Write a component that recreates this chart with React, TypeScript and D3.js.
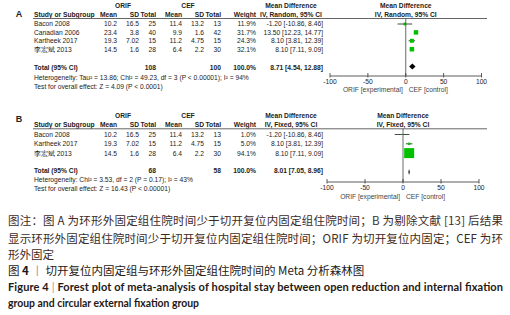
import React from "react";
import * as d3 from "d3";

// ---- Data ----
const studiesA = ["Bacon 2008", "Canadian 2006", "Kartheek 2017", "李宏斌 2013"];
const orifMeanA = [10.2, 23.4, 19.3, 14.5];
const orifSdA = ["16.5", "3.8", "7.02", "1.6"];
const orifNA = [25, 40, 15, 28];
const cefMeanA = [11.4, 9.9, 11.2, 6.4];
const cefSdA = ["13.2", "1.6", "4.75", "2.2"];
const cefNA = [13, 42, 15, 30];
const weightA = [11.9, 31.7, 24.3, 32.1];
const mdA = [-1.2, 13.5, 8.1, 8.1];
const lowA = [-10.86, 12.23, 3.81, 7.11];
const highA = [8.46, 14.77, 12.39, 9.09];
const totalA = [8.71, 4.54, 12.88];
const totalNA = [108, 100];

const studiesB = ["Bacon 2008", "Kartheek 2017", "李宏斌 2013"];
const orifMeanB = [10.2, 19.3, 14.5];
const orifSdB = ["16.5", "7.02", "1.6"];
const orifNB = [25, 15, 28];
const cefMeanB = [11.4, 11.2, 6.4];
const cefSdB = ["13.2", "4.75", "2.2"];
const cefNB = [13, 15, 30];
const weightB = [1.0, 5.0, 94.1];
const mdB = [-1.2, 8.1, 8.1];
const lowB = [-10.86, 3.81, 7.11];
const highB = [8.46, 12.39, 9.09];
const totalB = [8.01, 7.05, 8.96];
const totalNB = [68, 58];

const ticks = [-100, -50, 0, 50, 100];

const FONT = "'Liberation Sans', Arial, sans-serif";
const TXT = "#222";

type PanelProps = {
  label: string;
  method: string;
  studies: string[];
  om: number[]; os: string[]; on: number[];
  cm: number[]; cs: string[]; cn: number[];
  w: number[]; md: number[]; lo: number[]; hi: number[];
  total: number[]; totalN: number[];
  het: string; test: string;
  y: any;
  xRange: [number, number];
  sqMax: number;
};

function Panel(p: PanelProps) {
  const x = d3.scaleLinear().domain([-100, 100]).range(p.xRange);
  const sq = d3.scaleSqrt().domain([0, 100]).range([0, p.sqMax]);
  const L = p.y;
  const rowY = (i: number) => L.row0 + L.rowStep * i;
  const fs = 6.7;
  const cols = { om: 117, os: 139, on: 156, cm: 182, cs: 204, cn: 221, w: 256, ci: 323 };
  const x0 = x(0);
  const fmtCI = (m: number, a: number, b: number) => `${m.toFixed(2)} [${a.toFixed(2)}, ${b.toFixed(2)}]`;
  return (
    <g fontFamily={FONT} fontSize={fs} fill={TXT}>
      <text x={19} y={L.label} fontSize={9} fontWeight="bold" textAnchor="middle">{p.label}</text>
      <text x={123} y={L.h1} fontWeight="bold" textAnchor="middle">ORIF</text>
      <text x={188} y={L.h1} fontWeight="bold" textAnchor="middle">CEF</text>
      <text x={291} y={L.h1} fontWeight="bold" textAnchor="middle">Mean Difference</text>
      <text x={x0} y={L.h1} fontWeight="bold" textAnchor="middle">Mean Difference</text>
      <g fontWeight="bold">
        <text x={34} y={L.h2}>Study or Subgroup</text>
        <text x={cols.om} y={L.h2} textAnchor="end">Mean</text>
        <text x={cols.os} y={L.h2} textAnchor="end">SD</text>
        <text x={cols.on} y={L.h2} textAnchor="end">Total</text>
        <text x={cols.cm} y={L.h2} textAnchor="end">Mean</text>
        <text x={cols.cs} y={L.h2} textAnchor="end">SD</text>
        <text x={cols.cn} y={L.h2} textAnchor="end">Total</text>
        <text x={cols.w} y={L.h2} textAnchor="end">Weight</text>
        <text x={291} y={L.h2} textAnchor="middle">{`IV, ${p.method}, 95% CI`}</text>
        <text x={x0} y={L.h2} textAnchor="middle">{`IV, ${p.method}, 95% CI`}</text>
      </g>
      <line x1={33} x2={487} y1={L.line} y2={L.line} stroke="#666" strokeWidth={1} />
      {p.studies.map((s, i) => {
        const cy = rowY(i);
        const by = cy + 2.4;
        const size = sq(p.w[i]);
        return (
          <g key={s}>
            <text x={34} y={by}>{s}</text>
            <text x={cols.om} y={by} textAnchor="end">{p.om[i]}</text>
            <text x={cols.os} y={by} textAnchor="end">{p.os[i]}</text>
            <text x={cols.on} y={by} textAnchor="end">{p.on[i]}</text>
            <text x={cols.cm} y={by} textAnchor="end">{p.cm[i]}</text>
            <text x={cols.cs} y={by} textAnchor="end">{p.cs[i]}</text>
            <text x={cols.cn} y={by} textAnchor="end">{p.cn[i]}</text>
            <text x={cols.w} y={by} textAnchor="end">{p.w[i].toFixed(1) + "%"}</text>
            <text x={cols.ci} y={by} textAnchor="end">{fmtCI(p.md[i], p.lo[i], p.hi[i])}</text>
            <line x1={x(p.lo[i])} x2={x(p.hi[i])} y1={cy} y2={cy} stroke="#333" strokeWidth={0.9} />
            <rect x={x(p.md[i]) - size / 2} y={cy - size / 2} width={size} height={size} fill="#00c000" />
          </g>
        );
      })}
      <g fontWeight="bold">
        <text x={34} y={L.total}>Total (95% CI)</text>
        <text x={cols.on} y={L.total} textAnchor="end">{p.totalN[0]}</text>
        <text x={cols.cn} y={L.total} textAnchor="end">{p.totalN[1]}</text>
        <text x={cols.w} y={L.total} textAnchor="end">100.0%</text>
        <text x={cols.ci} y={L.total} textAnchor="end">{fmtCI(p.total[0], p.total[1], p.total[2])}</text>
      </g>
      <text x={34} y={L.het}>{p.het}</text>
      <text x={34} y={L.test}>{p.test}</text>
      <line x1={x0} x2={x0} y1={L.line} y2={L.axis} stroke="#444" strokeWidth={0.8} />
      <path
        d={`M${x(p.total[1])},${L.diamond} L${x(p.total[0])},${L.diamond - 3} L${x(p.total[2])},${L.diamond} L${x(p.total[0])},${L.diamond + 3} Z`}
        fill="#000"
      />
      <line x1={x(-100)} x2={x(100)} y1={L.axis} y2={L.axis} stroke="#333" strokeWidth={0.8} />
      {ticks.map((t) => (
        <g key={t}>
          <line x1={x(t)} x2={x(t)} y1={L.axis - 3} y2={L.axis + 1.5} stroke="#333" strokeWidth={0.8} />
          <text x={x(t)} y={L.tick} textAnchor="middle">{String(t)}</text>
        </g>
      ))}
      <text x={x0 - 3} y={L.axLab} textAnchor="end" fill="#444">ORIF [experimental]</text>
      <text x={x0 + 3} y={L.axLab} fill="#444">CEF [control]</text>
    </g>
  );
}

const layoutA = { label: 17, h1: 7.5, h2: 16.8, line: 18.5, row0: 24, rowStep: 8.4, total: 70, diamond: 66.5, het: 79.5, test: 88.5, axis: 76, tick: 83.5, axLab: 91.5 };
const layoutB = { label: 122, h1: 117.5, h2: 126.5, line: 128.8, row0: 134.5, rowStep: 9.3, total: 172.5, diamond: 172, het: 181.5, test: 191, axis: 182, tick: 190, axLab: 198.5 };

const CJK = "'Noto Sans CJK SC', 'Noto Sans', sans-serif";
const NOTE = "#3d2b1f";
const TITLE = "#231815";

export default function App() {
  return (
    <svg width={510} height={315} style={{ position: "absolute", left: 0, top: 0, background: "#fff" }}>
      <rect width={510} height={315} fill="#fff" />
      <Panel
        label="A" method="Random" studies={studiesA}
        om={orifMeanA} os={orifSdA} on={orifNA} cm={cefMeanA} cs={cefSdA} cn={cefNA}
        w={weightA} md={mdA} lo={lowA} hi={highA} total={totalA} totalN={totalNA}
        het="Heterogeneity: Tau² = 13.86; Chi² = 49.23, df = 3 (P < 0.00001); I² = 94%"
        test="Test for overall effect: Z = 4.09 (P < 0.0001)"
        y={layoutA} xRange={[330, 481.5]} sqMax={8}
      />
      <Panel
        label="B" method="Fixed" studies={studiesB}
        om={orifMeanB} os={orifSdB} on={orifNB} cm={cefMeanB} cs={cefSdB} cn={cefNB}
        w={weightB} md={mdB} lo={lowB} hi={highB} total={totalB} totalN={totalNB}
        het="Heterogeneity: Chi² = 3.53, df = 2 (P = 0.17); I² = 43%"
        test="Test for overall effect: Z = 16.43 (P < 0.00001)"
        y={layoutB} xRange={[327, 479]} sqMax={10.3}
      />
      <g fontFamily={CJK} fontSize={11.5} fill={NOTE}>
        <text x={8} y={224.5} textLength={495} lengthAdjust="spacing">图注：图 A 为环形外固定组住院时间少于切开复位内固定组住院时间；B 为剔除文献 [13] 后结果</text>
        <text x={8} y={242.5} textLength={495} lengthAdjust="spacing">显示环形外固定组住院时间少于切开复位内固定组住院时间；ORIF 为切开复位内固定；CEF 为环</text>
        <text x={8} y={258.5}>形外固定</text>
      </g>
      <text x={8} y={274.5} fontFamily={CJK} fontSize={11.5} fill={TITLE}>
        图 <tspan fontWeight="bold">4</tspan><tspan fill="#999"> 丨 </tspan>切开复位内固定组与环形外固定组住院时间的 Meta 分析森林图
      </text>
      <g fontFamily="Lato, 'Noto Sans', sans-serif" fontWeight="bold" fontSize={11} fill={TITLE}>
        <text x={8} y={290.5} textLength={495} lengthAdjust="spacing">
          Figure 4 <tspan fill="#999" fontWeight="normal">  |  </tspan> Forest plot of meta-analysis of hospital stay between open reduction and internal fixation
        </text>
        <text x={8} y={306.5} textLength={191} lengthAdjust="spacingAndGlyphs">group and circular external fixation group</text>
      </g>
    </svg>
  );
}
